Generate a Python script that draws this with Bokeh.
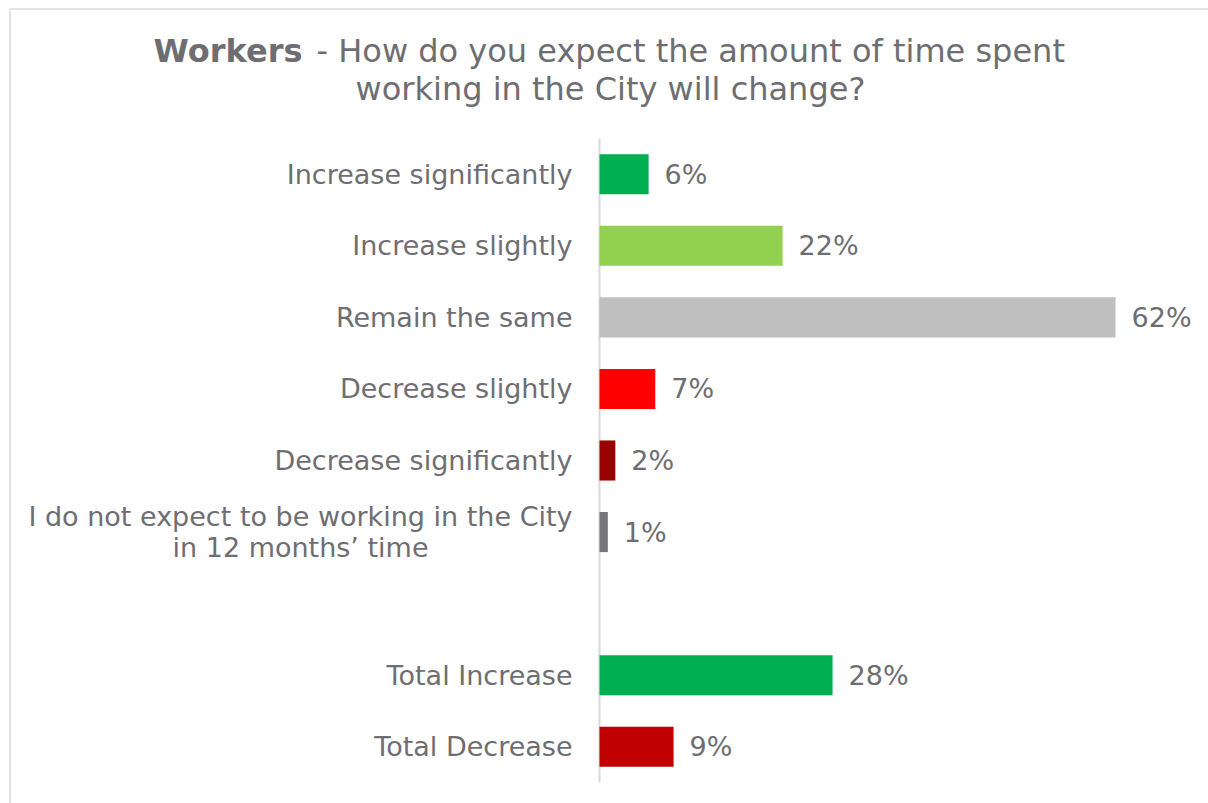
import numpy as np
from bokeh.plotting import figure
from bokeh.models import ColumnDataSource, Range1d
from bokeh.core.properties import value
from bokeh.embed import file_html
from bokeh.resources import INLINE

# ---- data ----
categories = [
    "Increase significantly",
    "Increase slightly",
    "Remain the same",
    "Decrease slightly",
    "Decrease significantly",
    "I do not expect to be working in the City\nin 12 months\u2019 time",
    "",  # spacer row
    "Total Increase",
    "Total Decrease",
]
values = [5.9, 22.0, 62.0, 6.7, 1.9, 1.0, np.nan, 28.0, 8.9]
colors = ["#00b050", "#92d050", "#bfbfbf", "#ff0000", "#990000", "#75757a", "#ffffff", "#00b050", "#c00000"]

title_bold = "Workers"
title_rest_1 = "- How do you expect the amount of time spent"
title_line_2 = "working in the City will change?"

TEXT = "#6e6e72"
FONT = "DejaVu Sans"

n = len(categories)
ypos = [n - 1 - i for i in range(n)]  # top row highest

rows = [i for i in range(n) if categories[i] != ""]
single = [i for i in rows if "\n" not in categories[i]]
multi = [i for i in rows if "\n" in categories[i]]

def src(idx):
    return ColumnDataSource(dict(
        y=[ypos[i] for i in idx],
        v=[values[i] for i in idx],
        cat=[categories[i] for i in idx],
        col=[colors[i] for i in idx],
        lab=[f"{values[i]:.0f}%" for i in idx],
        zero=[0] * len(idx),
    ))

s_all = src(rows)
s_single = src(single)
s_multi = src(multi)

W, H = 1208, 803
X0, X1 = -71.97, 73.17
Y0, Y1 = -0.793, 10.428
BX, BY = -70.83, 10.309   # chart-area border (left, top)
p = figure(width=W, height=H, output_backend="svg", toolbar_location=None,
           x_range=Range1d(X0, X1), y_range=Range1d(Y0, Y1),
           min_border=0, min_border_left=0, min_border_right=0,
           min_border_top=0, min_border_bottom=0)
p.axis.visible = False
p.xgrid.visible = False
p.ygrid.visible = False
p.outline_line_color = None
p.background_fill_color = "white"
p.border_fill_color = "white"

# light border of the chart area (top and left)
p.segment(x0=[BX, BX], y0=[BY, BY], x1=[X1 + 1, BX], y1=[BY, Y0 - 1],
          line_color="#e3e3e3", line_width=2)

# vertical axis line
p.segment(x0=0, y0=-0.5, x1=0, y1=n - 0.5, line_color="#d9d9d9", line_width=2)

# bars
p.hbar(y="y", left="zero", right="v", height=0.56, color="col", line_color=None, source=s_all)

# value labels
p.text(x="v", y="y", text="lab", source=s_all, x_offset=16, text_align="left",
       text_baseline="middle", text_color=TEXT, text_font=value(FONT), text_font_size="27px")

# category labels
p.text(x="zero", y="y", text="cat", source=s_single, x_offset=-27, text_align="right",
       text_baseline="middle", text_color=TEXT, text_font=value(FONT), text_font_size="27px")
p.text(x="zero", y="y", text="cat", source=s_multi, x_offset=-299, text_align="center",
       text_baseline="middle", text_color=TEXT, text_font=value(FONT), text_font_size="27px",
       text_line_height=1.02)

# title
p.text(x=[-35.69], y=[9.729], text=[title_bold], text_align="right", text_baseline="middle",
       text_color=TEXT, text_font=value(FONT), text_font_size="32px", text_font_style="bold")
p.text(x=[-34.00], y=[9.729], text=[title_rest_1], text_align="left", text_baseline="middle",
       text_color=TEXT, text_font=value(FONT), text_font_size="32px")
p.text(x=[1.32], y=[9.198], text=[title_line_2], text_align="center", text_baseline="middle",
       text_color=TEXT, text_font=value(FONT), text_font_size="32px")

open("out.html", "w").write(file_html(p, INLINE))
